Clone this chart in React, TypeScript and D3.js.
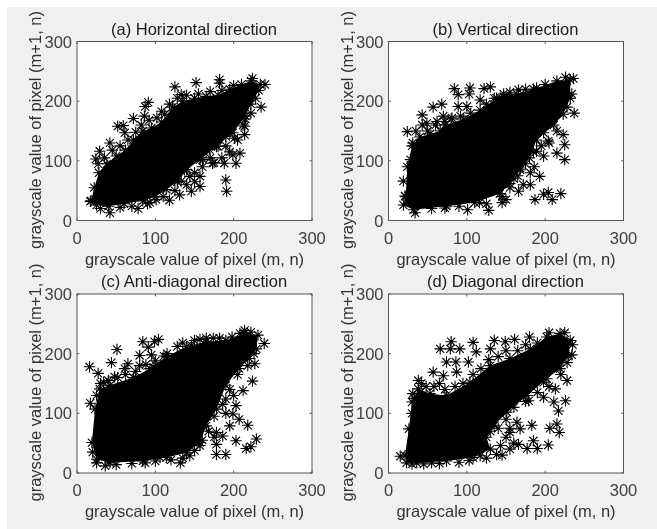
import React from "react";
import * as d3 from "d3";

const ticks = [0, 100, 200, 300];
const titles = ["(a) Horizontal direction", "(b) Vertical direction", "(c) Anti-diagonal direction", "(d) Diagonal direction"];
const xLabel = "grayscale value of pixel (m, n)";
const yLabel = "grayscale value of pixel (m+1, n)";

// Solid black mass (where markers overlap completely)
const massAX = [18,22,28,38,50,62,72,84,95,108,122,135,150,165,180,195,210,222,234,232,222,215,199,178,157,140,128,114,100,84,60,40,25];
const massAY = [33,55,80,95,108,118,135,150,155,165,190,200,205,208,210,220,228,234,228,218,195,175,147,124,102,85,65,52,40,33,28,24,26];
const massBX = [22,24,30,40,53,66,72,96,117,138,147,164,189,215,232,232,223,211,189,180,168,155,142,110,74,32,19];
const massBY = [40,90,125,140,145,150,160,170,185,205,212,212,222,234,236,205,178,160,135,105,88,62,45,30,24,18,26];
const massCX = [19,23,29,42,72,93,114,140,165,190,214,231,229,220,207,190,178,165,157,140,114,84,42,25];
const massCY = [51,107,141,147,160,175,195,212,220,222,234,231,208,192,175,147,107,79,51,34,26,20,17,23];
const massDX = [21,26,30,38,53,74,104,130,155,181,202,219,232,230,219,202,177,151,135,125,130,108,74,36,23];
const massDY = [29,74,119,141,133,130,152,180,192,208,228,234,222,197,175,158,130,102,80,60,40,26,20,17,17];

// Markers on the fuzzy rim of the mass
const rimAX = [27,35,45,55,65,75,82,92,102,112,118,128,140,155,170,185,200,228,222,212,205,190,170,160,150,150,140,125,110,90,70,55,30,215,195,185,175];
const rimAY = [95,105,118,125,135,148,160,168,172,178,195,205,210,212,216,218,226,205,180,160,135,125,105,90,80,65,60,50,40,28,24,22,20,170,115,105,97];
const rimBX = [35,50,60,80,92,105,125,135,155,175,200,43,70,228,215,205,195,185,175,165,155,145,125,90,55,160,172,186,150];
const rimBY = [150,150,160,170,175,180,195,205,215,220,228,160,175,190,150,130,125,115,95,75,55,40,28,24,20,70,60,90,35];
const rimCX = [25,30,40,52,62,75,88,100,115,128,135,150,165,182,198,208,222,226,218,205,195,186,175,168,160,150,135,120,100,70,50,25,20,175,190,200];
const rimCY = [130,150,155,160,165,170,182,188,200,212,218,222,226,226,228,234,236,200,180,165,140,115,95,70,55,38,25,22,20,16,14,17,35,60,100,130];
const rimDX = [30,33,42,48,58,65,72,85,95,108,118,128,140,150,165,175,190,205,225,235,228,220,205,190,175,160,150,155,150,160,145,125,90,65,45,130,140];
const rimDY = [100,125,150,145,145,150,140,145,150,165,175,190,195,205,205,215,218,235,235,215,185,165,145,135,120,110,90,75,60,50,30,25,18,16,15,70,75];

// Individually visible markers
const ptsAX = [125,152,182,182,235,240,224,91,87,72,86,108,52,59,61,42,29,24,133,214,214,201,190,208,199,188,203,173,157,146,131,190,191,118,78,42,17,93,157,144,161,180,169,133,137,101];
const ptsAY = [224,231,236,230,190,228,238,198,191,171,175,183,158,159,147,130,116,103,211,144,158,138,141,113,110,96,96,96,57,49,43,68,49,34,20,13,32,30,74,74,102,124,119,66,85,35];
const ptsBX = [84,89,104,103,122,130,166,185,226,236,234,237,68,57,43,49,24,31,28,19,21,34,72,101,128,116,145,166,181,187,198,204,209,220,225,225,223,215,204,198,189,198,193,181,168,155,100,89,117,81,62,72,147];
const ptsBY = [221,211,222,212,221,224,219,220,240,238,212,180,195,190,177,163,149,130,102,66,41,13,21,18,17,30,30,49,60,35,44,47,35,45,102,127,144,113,133,147,116,108,74,80,85,80,191,191,202,172,166,166,208];
const ptsCX = [16,51,17,27,44,65,61,48,34,84,99,104,80,95,91,111,101,80,146,157,174,214,239,227,224,212,203,218,229,222,216,203,195,190,178,178,186,199,190,132,87,106,36,157,144,178,207];
const ptsCY = [178,207,117,167,185,183,175,161,152,220,220,224,197,198,211,196,180,180,214,224,226,239,217,183,154,138,113,80,57,44,41,54,79,31,31,48,62,99,124,17,17,26,12,46,29,68,90];
const ptsDX = [15,30,66,80,79,91,108,112,130,135,149,161,180,74,86,102,57,70,38,31,87,234,228,226,217,215,206,218,204,190,177,185,183,168,166,155,213,198,211,103,55,117,138,143,155,164,179,198];
const ptsDY = [28,15,208,220,208,208,219,203,208,222,220,224,228,186,186,186,169,163,155,133,169,198,155,121,104,82,75,68,47,41,41,54,80,74,48,40,141,152,119,21,17,29,31,46,68,85,121,127];

const panelData = [
  { mx: massAX, my: massAY, rx: rimAX, ry: rimAY, px: ptsAX, py: ptsAY },
  { mx: massBX, my: massBY, rx: rimBX, ry: rimBY, px: ptsBX, py: ptsBY },
  { mx: massCX, my: massCY, rx: rimCX, ry: rimCY, px: ptsCX, py: ptsCY },
  { mx: massDX, my: massDY, rx: rimDX, ry: rimDY, px: ptsDX, py: ptsDY },
];

const FONT = "'Liberation Sans', Arial, sans-serif";
const R = 5.7;
const K = R * Math.SQRT1_2;
const STAR = `M${-R},0H${R}M0,${-R}V${R}M${-K},${-K}L${K},${K}M${-K},${K}L${K},${-K}`;

function Panel({ i }: { i: number }) {
  const left = i % 2 === 0 ? 77 : 388.5;
  const top = i < 2 ? 41.5 : 294;
  const w = 235;
  const h = 179;
  const x = d3.scaleLinear().domain([0, 300]).range([left, left + w]);
  const y = d3.scaleLinear().domain([0, 300]).range([top + h, top]);
  const { mx, my, rx, ry, px, py } = panelData[i];
  const mass = d3.line<number>().x((v) => x(v)).y((_, k) => y(my[k])).curve(d3.curveLinearClosed)(mx) ?? "";
  const stars = [
    ...mx.map((v, k) => [v, my[k]]),
    ...rx.map((v, k) => [v, ry[k]]),
    ...px.map((v, k) => [v, py[k]]),
  ];
  return (
    <g fontFamily={FONT}>
      <rect x={left} y={top} width={w} height={h} fill="#fff" />
      <path d={mass} fill="#000" />
      {stars.map(([a, b], k) => (
        <path key={k} d={STAR} transform={`translate(${x(a)},${y(b)})`} stroke="#000" strokeWidth={1.1} fill="none" />
      ))}
      <rect x={left} y={top} width={w} height={h} fill="none" stroke="#555" strokeWidth={1} />
      {ticks.map((t) => (
        <g key={t}>
          <path d={`M${x(t)},${top + h}v-2.4M${x(t)},${top}v2.4M${left},${y(t)}h2.4M${left + w},${y(t)}h-2.4`} stroke="#555" />
          <text x={x(t)} y={top + h + 23} textAnchor="middle" fontSize={16.5} fill="#404040">{t}</text>
          <text x={left - 5} y={y(t) + 6} textAnchor="end" fontSize={16.5} fill="#404040">{t}</text>
        </g>
      ))}
      <text x={left + w / 2 - 0.5} y={top - 7} textAnchor="middle" fontSize={16.5} fill="#1a1a1a">{titles[i]}</text>
      <text x={left + w / 2} y={top + h + 44} textAnchor="middle" fontSize={16.5} fill="#333">{xLabel}</text>
      <text transform={`translate(${left - 36},${top + h / 2 - 1}) rotate(-90)`} textAnchor="middle" fontSize={16.5} fill="#333">{yLabel}</text>
    </g>
  );
}

export default function App() {
  return (
    <svg width={657} height={529} style={{ position: "fixed", left: 0, top: 0, display: "block", background: "#fff" }}>
      <defs>
        <filter id="soft" x="0" y="0" width="100%" height="100%">
          <feGaussianBlur stdDeviation="0.45" />
        </filter>
      </defs>
      <g filter="url(#soft)">
        <rect x={7} y={7} width={650} height={522} fill="#f0f0f0" />
        {titles.map((_, i) => <Panel key={i} i={i} />)}
      </g>
    </svg>
  );
}
